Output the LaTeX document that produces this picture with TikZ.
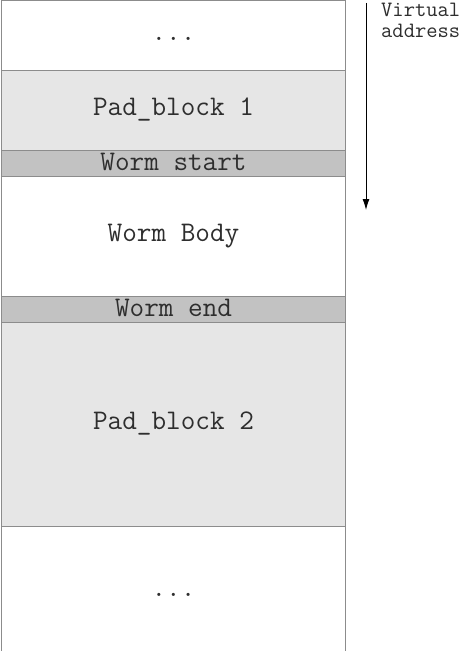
\documentclass[tikz,border=0pt]{standalone}
\usetikzlibrary{arrows.meta}
\definecolor{padgray}{HTML}{E6E6E6}
\definecolor{bandgray}{HTML}{C2C2C2}
\definecolor{edgegray}{HTML}{8C8C8C}
\definecolor{txtgray}{HTML}{2E2E2E}
\begin{document}
\begin{tikzpicture}[x=1bp,y=-1bp,
  blk/.style={draw=edgegray,line width=1bp,anchor=north west,minimum width=344bp,inner sep=0pt,
    text height=16bp,text depth=6bp,
    font=\ttfamily\fontsize{28.5}{30}\selectfont,text=txtgray},
  band/.style={blk,fill=bandgray,minimum height=26bp,text height=18bp,text depth=4bp},
  lbl/.style={font=\ttfamily\fontsize{22}{21}\selectfont,text=txtgray,align=left,anchor=north west,inner sep=0pt}]
\useasboundingbox (0,0) rectangle (468,651);
\fill[white] (0,0) rectangle (468,651);
\node[blk,fill=white,minimum height=70bp] (top) at (1,0) {...};
\node[blk,fill=padgray,minimum height=80bp] (pad1) at (1,70) {Pad\_block 1};
\node[band] (wstart) at (1,150) {Worm start};
\node[blk,fill=white,minimum height=120bp] (wbody) at (1,176) {Worm Body};
\node[band] (wend) at (1,296) {Worm end};
\node[blk,fill=padgray,minimum height=204bp] (pad2) at (1,322) {Pad\_block 2};
\node[blk,fill=white,minimum height=130bp] (bot) at (1,526) {...};
\coordinate (a0) at (366,3);
\coordinate (a1) at (366,210);
\draw[line width=0.9bp,-{Latex[length=11bp,width=7bp]}] (a0) -- (a1);
\node[lbl] (va) at (381,3) {Virtual\\address};
\end{tikzpicture}
\end{document}
